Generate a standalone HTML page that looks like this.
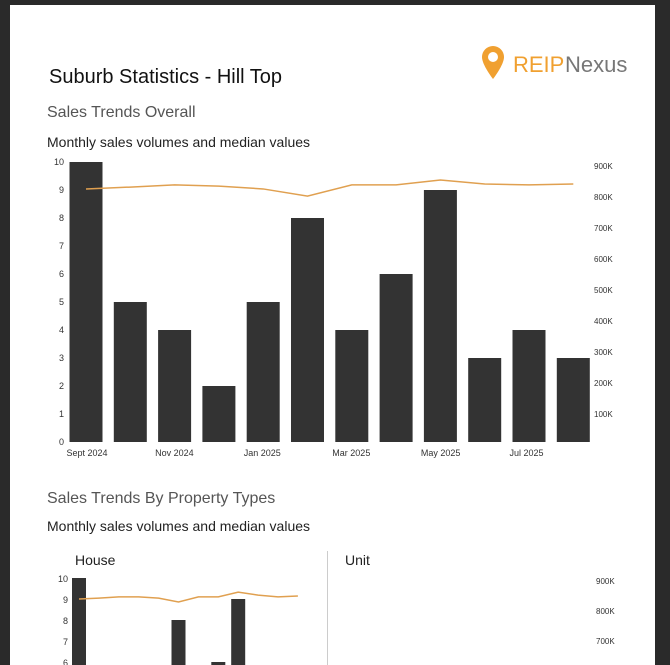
<!DOCTYPE html>
<html><head><meta charset="utf-8">
<style>
body{margin:0;width:670px;height:665px;overflow:hidden;background:#2a2a2a;font-family:"Liberation Sans",sans-serif;position:relative;}
#page{position:absolute;left:10px;top:5px;width:645px;height:660px;background:#fff;}
.t{position:absolute;white-space:nowrap;}
</style></head><body>
<div id="page"></div>
<div class="t" style="left:49px;top:66px;font-size:20px;color:#111;">Suburb Statistics - Hill Top</div>
<div style="position:absolute;left:481px;top:44px;">
<svg width="150" height="40"><path d="M12 2a11 11 0 0 1 11 11c0 8-11 22-11 22S1 21 1 13A11 11 0 0 1 12 2z" fill="#f0a030"/><circle cx="12" cy="13" r="5" fill="#fff"/>
<text x="32" y="28" font-size="22" font-family="Liberation Sans" fill="#f0a030">REIP</text><text x="84" y="28" font-size="22" font-family="Liberation Sans" fill="#777">Nexus</text></svg></div>
<div class="t" style="left:47px;top:104px;font-size:16px;color:#555;">Sales Trends Overall</div>
<div class="t" style="left:47px;top:134px;font-size:14px;color:#222;">Monthly sales volumes and median values</div>
<div class="t" style="left:47px;top:490px;font-size:16px;color:#555;">Sales Trends By Property Types</div>
<div class="t" style="left:47px;top:518px;font-size:14px;color:#222;">Monthly sales volumes and median values</div>
<div class="t" style="left:75px;top:552px;font-size:14px;color:#222;">House</div>
<div class="t" style="left:345px;top:552px;font-size:14px;color:#222;">Unit</div>
<div style="position:absolute;left:327px;top:551px;width:1px;height:114px;background:#ccc;"></div>
<svg id="c" width="670" height="665" style="position:absolute;left:0;top:0;"></svg>
<script>
const months=["Sept 2024","Oct 2024","Nov 2024","Dec 2024","Jan 2025","Feb 2025","Mar 2025","Apr 2025","May 2025","Jun 2025","Jul 2025","Aug 2025"];
const xLabels=["Sept 2024","Nov 2024","Jan 2025","Mar 2025","May 2025","Jul 2025"];
const salesVolume=[10,5,4,2,5,8,4,6,9,3,4,3];
const medianValue=[826,832,839,835,826,803,839,839,855,842,839,842];
const leftTicks=[0,1,2,3,4,5,6,7,8,9,10];
const rightTicks=[100,200,300,400,500,600,700,800,900];
const houseVolume=[10,5,4,2,5,8,4,6,9,3,4,3];
const houseMedian=[840,843,847,847,843,830,847,847,863,853,847,850];
const houseTicks=[6,7,8,9,10];
const unitTicks=[600,700,800,900];
const svg=document.getElementById('c');const NS='http://www.w3.org/2000/svg';
function mk(t,a,txt){const e=document.createElementNS(NS,t);for(const k in a)e.setAttribute(k,a[k]);if(txt!==undefined)e.textContent=txt;svg.appendChild(e);return e;}
const x0=69.5,step=44.3,bw=33;
const yL=v=>442-v*28, yR=v=>445-v*0.31;
leftTicks.forEach(v=>{const e=mk('text',{x:64,y:yL(v)+3,'font-size':9,'text-anchor':'end',fill:'#333'},v);

});
rightTicks.forEach(v=>{const e=mk('text',{x:594,y:yR(v)+3,'font-size':8,fill:'#333'},v+'K');

});
salesVolume.forEach((v,i)=>{const e=mk('rect',{x:x0+i*step,y:yL(v),width:bw,height:v*28,fill:'#333'});

});
xLabels.forEach(l=>{const i=months.indexOf(l);const e=mk('text',{x:x0+i*step-3,y:456,'font-size':9,fill:'#333'},l);

});
let pts=medianValue.map((v,i)=>(x0+i*step+bw/2)+','+yR(v)).join(' ');
const ln=mk('polyline',{points:pts,fill:'none',stroke:'#e0a050','stroke-width':1.5});


const hx0=72,hs=19.9,hbw=14;const hy=v=>788-v*21, hr=v=>851-v*0.3;
houseTicks.forEach(v=>{const e=mk('text',{x:68,y:hy(v)+4,'font-size':9,'text-anchor':'end',fill:'#333'},v);

});
houseVolume.forEach((v,i)=>{const e=mk('rect',{x:hx0+i*hs,y:hy(v),width:hbw,height:v*21,fill:'#333'});

});
pts=houseMedian.map((v,i)=>(hx0+i*hs+hbw/2)+','+hr(v)).join(' ');
const hl=mk('polyline',{points:pts,fill:'none',stroke:'#e0a050','stroke-width':1.5});


unitTicks.forEach(v=>{const e=mk('text',{x:596,y:hr(v)+3,'font-size':8,fill:'#333'},v+'K');

});
</script>
</body></html>
